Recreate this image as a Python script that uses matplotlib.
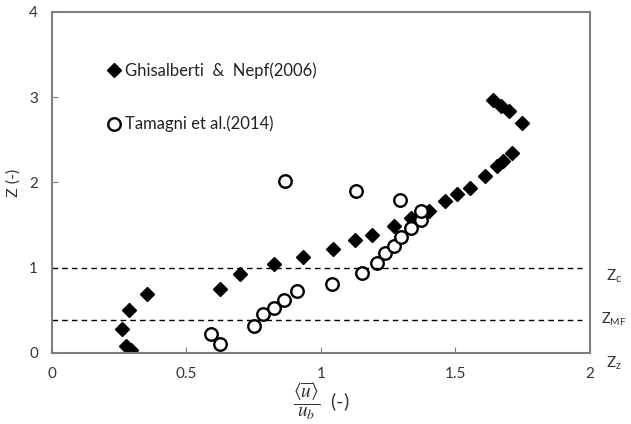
import matplotlib
matplotlib.use('Agg')
import matplotlib.pyplot as plt

plt.rcParams['font.family'] = ['Lato', 'DejaVu Sans']
plt.rcParams['mathtext.fontset'] = 'stix'

# Ghisalberti & Nepf (2006)
gn_x = [0.259, 0.275, 0.294, 0.288, 0.354, 0.625, 0.70, 0.826, 0.932, 1.043,
        1.126, 1.188, 1.27, 1.333, 1.40, 1.46, 1.507, 1.554, 1.61, 1.653,
        1.678, 1.711, 1.64, 1.668, 1.699, 1.748]
gn_z = [0.28, 0.08, 0.04, 0.50, 0.69, 0.75, 0.93, 1.04, 1.13, 1.22,
        1.32, 1.38, 1.49, 1.58, 1.67, 1.78, 1.87, 1.94, 2.08, 2.19,
        2.25, 2.34, 2.97, 2.90, 2.84, 2.70]

# Tamagni et al. (2014)
tam_x = [0.591, 0.625, 0.752, 0.786, 0.824, 0.864, 0.91, 1.042, 1.152, 1.209,
         1.237, 1.271, 1.297, 1.333, 1.373, 1.373, 1.294, 1.129, 0.866]
tam_z = [0.22, 0.10, 0.32, 0.46, 0.53, 0.62, 0.73, 0.81, 0.935, 1.06,
         1.17, 1.25, 1.36, 1.47, 1.56, 1.67, 1.79, 1.90, 2.02]

z_c = 1.0
z_mf = 0.39

fig = plt.figure(figsize=(6.31, 4.24), dpi=100)
ax = fig.add_axes([0.0824, 0.1675, 0.8526, 0.8045])

ax.plot(gn_x, gn_z, 'D', color='black', markersize=7,
        label='Ghisalberti  &  Nepf(2006)')
ax.plot(tam_x, tam_z, 'o', mfc='white', mec='black', mew=1.7, markersize=9,
        label='Tamagni et al.(2014)')

ax.axhline(z_c, xmin=0, xmax=0.985, color='black', ls='--', lw=1.0, dashes=(4, 3))
ax.axhline(z_mf, xmin=0, xmax=0.985, color='black', ls='--', lw=1.0, dashes=(4, 3))

ax.set_xlim(0, 2)
ax.set_ylim(0, 4)
ax.set_xticks([0, 0.5, 1, 1.5, 2])
ax.set_xticklabels(['0', '0.5', '1', '1.5', '2'])
ax.set_yticks([0, 1, 2, 3, 4])
for s in ax.spines.values():
    s.set_color('#7f7f7f')
    s.set_linewidth(1.5)
ax.tick_params(direction='in', length=4, color='#7f7f7f', labelsize=11,
               labelcolor='#333333', pad=10)

ax.set_ylabel('Z (-)', fontsize=11.5, color='#333333', labelpad=6)
ax.set_xlabel(r'$\dfrac{\langle\overline{u}\rangle}{u_b}$  (-)', fontsize=14,
              color='#333333', labelpad=0)

# right-hand labels
ax.text(1.03, 0.90, r'$\mathregular{Z_c}$', transform=ax.get_yaxis_transform(),
        fontsize=11, color='#333333', va='center', clip_on=False)
ax.text(1.02, 0.40, r'$\mathregular{Z_{MF}}$', transform=ax.get_yaxis_transform(),
        fontsize=10.5, color='#333333', va='center', clip_on=False)
ax.text(1.03, -0.12, r'$\mathregular{Z_z}$', transform=ax.get_yaxis_transform(),
        fontsize=11, color='#333333', va='center', clip_on=False)

ax.legend(loc='upper left', bbox_to_anchor=(0.07, 0.895), frameon=False,
          fontsize=12, handletextpad=0.1, handlelength=1.1, labelspacing=2.2,
          labelcolor='#222222')

fig.savefig('out.png', dpi=100)
